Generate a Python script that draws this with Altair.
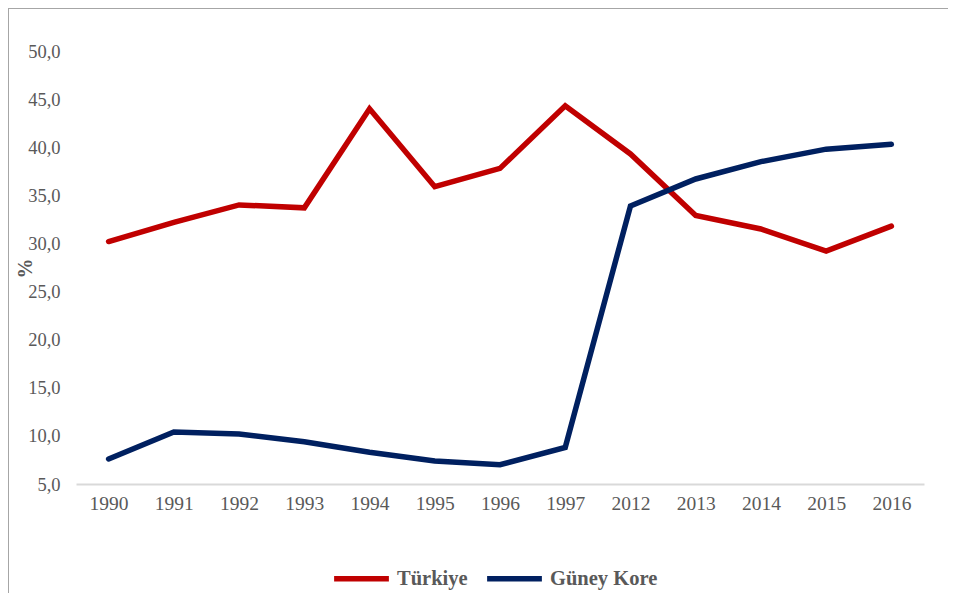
import altair as alt
import pandas as pd

years = ["1990", "1991", "1992", "1993", "1994", "1995", "1996", "1997",
         "2012", "2013", "2014", "2015", "2016"]
turkiye = [30.2, 32.2, 34.0, 33.7, 44.0, 35.9, 37.8, 44.3, 39.3, 32.9, 31.5, 29.2, 31.8]
kore = [7.6, 10.4, 10.2, 9.4, 8.3, 7.4, 7.0, 8.8, 33.9, 36.7, 38.5, 39.8, 40.3]
series = ["Türkiye", "Güney Kore"]
colors = ["#C00000", "#002060"]
y_ticks = [5, 10, 15, 20, 25, 30, 35, 40, 45, 50]

rows = []
for name, vals in zip(series, [turkiye, kore]):
    for yr, v in zip(years, vals):
        rows.append({"Yıl": yr, "Değer": v, "Seri": name})
df = pd.DataFrame(rows)

FONT = "Liberation Serif"
GRAY = "#595959"

lines = alt.Chart(df).mark_line(strokeWidth=5.5, strokeCap="round").encode(
    x=alt.X("Yıl:O", sort=years, scale=alt.Scale(padding=0.5),
            axis=alt.Axis(title=None, labelAngle=0, ticks=False, domainColor="#D9D9D9",
                          domainWidth=2, labelPadding=10, labelFontSize=19.5,
                          labelColor=GRAY, labelFont=FONT)),
    y=alt.Y("Değer:Q", scale=alt.Scale(domain=[5, 50], nice=False, zero=False),
            axis=alt.Axis(title="%", values=y_ticks, grid=False, domain=False, ticks=False,
                          labelExpr="replace(format(datum.value, '.1f'), '.', ',')",
                          labelFontSize=18.5, labelColor=GRAY, labelFont=FONT,
                          labelPadding=16, titleFont=FONT, titleFontSize=20,
                          titleFontWeight="bold", titleColor=GRAY, titleAngle=-90,
                          titleBaseline="middle", titleAlign="center",
                          titleX=-51, titleY=217)),
    color=alt.Color("Seri:N", sort=series,
                    scale=alt.Scale(domain=series, range=colors),
                    legend=alt.Legend(title=None, orient="none", direction="horizontal",
                                      legendX=255, legendY=497, symbolType="stroke",
                                      symbolSize=3000, symbolStrokeWidth=5.5,
                                      labelFont=FONT, labelFontSize=20.5,
                                      labelFontWeight="bold", labelColor=GRAY,
                                      columnPadding=8, labelOffset=5)),
)

left_border = alt.Chart(df).mark_rule(color="#A6A6A6", strokeWidth=2).encode(
    x=alt.value(-68), y=alt.value(-43), y2=alt.value(600))
top_border = alt.Chart(df).mark_rule(color="#A6A6A6", strokeWidth=2).encode(
    x=alt.value(-68), x2=alt.value(900), y=alt.value(-43))

chart = alt.layer(lines, left_border, top_border).properties(
    width=848, height=433,
    autosize=alt.AutoSizeParams(type="none"),
    padding={"left": 68, "top": 43, "right": 24, "bottom": 109},
).configure_view(stroke=None)

chart.save("out.html", embed_options={"renderer": "svg", "actions": False})
